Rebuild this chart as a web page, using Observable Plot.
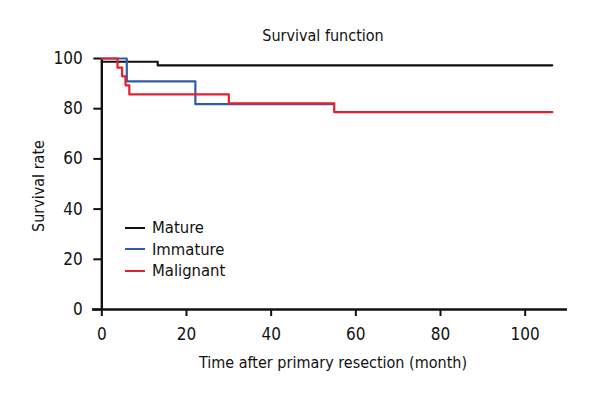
<!DOCTYPE html>
<html>
<head>
<meta charset="utf-8">
<script src="https://cdn.jsdelivr.net/npm/d3@7"></script>
<script src="https://cdn.jsdelivr.net/npm/@observablehq/plot@0.6"></script>
<style>
  html, body { margin: 0; padding: 0; background: #fff; }
  #wrap { position: relative; width: 600px; height: 400px; overflow: hidden; }
  #legend { position: absolute; left: 125px; top: 217px; font-family: "Liberation Sans Narrow", "DejaVu Sans Condensed", "Roboto", sans-serif; font-size: 16.5px; color: #111; }
  #legend .row { display: flex; align-items: center; height: 21.5px; }
  #legend .sw { width: 20px; height: 0; border-top: 2.2px solid; margin-right: 7px; }
</style>
</head>
<body>
<div id="wrap"><div id="legend"></div></div>
<script>
const FONT = '"Liberation Sans Narrow", "DejaVu Sans Condensed", Roboto, sans-serif';

const titleText = "Survival function";
const xLabel = "Time after primary resection (month)";
const yLabel = "Survival rate";
const xTicks = [0, 20, 40, 60, 80, 100];
const yTicks = [0, 20, 40, 60, 80, 100];

const groups = ["Mature", "Immature", "Malignant"];
const colors = ["#111111", "#2f5dab", "#e5202e"];

const matureTime = [0, 13.2, 106.4];
const matureSurv = [98.7, 97.3, 97.3];
const immatureTime = [0, 5.9, 22.1, 54.6];
const immatureSurv = [100, 90.9, 81.8, 81.8];
const malignantTime = [0, 3.7, 4.8, 5.6, 6.5, 30.0, 54.9, 106.4];
const malignantSurv = [100, 96.4, 92.9, 89.3, 85.7, 82.1, 78.6, 78.6];

const series = [
  matureTime.map((t, i) => ({group: "Mature", t, s: matureSurv[i]})),
  immatureTime.map((t, i) => ({group: "Immature", t, s: immatureSurv[i]})),
  malignantTime.map((t, i) => ({group: "Malignant", t, s: malignantSurv[i]}))
];

const chart = Plot.plot({
  width: 600,
  height: 400,
  marginLeft: 92,
  marginRight: 33,
  marginTop: 58,
  marginBottom: 91,
  style: {fontFamily: FONT, fontSize: "17px", color: "#111", background: "#fff", overflow: "visible"},
  x: {domain: [-2.2, 110]},
  y: {domain: [0, 100]},
  marks: [
    Plot.axisX({ticks: xTicks, tickSize: 7, tickPadding: 11, strokeWidth: 2, label: null, fontSize: 17}),
    Plot.axisY({ticks: yTicks, tickSize: 8, dx: 9.3, tickPadding: 11, strokeWidth: 2, label: null, fontSize: 17}),
    Plot.ruleY([0], {stroke: "#111", strokeWidth: 2.4}),
    Plot.ruleX([0], {y1: 0, y2: 100, stroke: "#111", strokeWidth: 2.4}),
    ...series.map((d, i) => Plot.line(d, {x: "t", y: "s", stroke: colors[i], strokeWidth: 2.2, curve: "step-after"})),
    Plot.text([titleText], {frameAnchor: "top", lineAnchor: "middle", textAnchor: "middle", dy: -23, dx: -7, fontSize: 16, fill: "#111"}),
    Plot.text([xLabel], {frameAnchor: "bottom", lineAnchor: "middle", textAnchor: "middle", dy: 53, dx: 3, fontSize: 16, fill: "#111"}),
    Plot.text([yLabel], {frameAnchor: "left", lineAnchor: "middle", textAnchor: "middle", dx: -54, dy: 2, rotate: -90, fontSize: 16, fill: "#111"})
  ]
});

const wrap = document.getElementById("wrap");
wrap.insertBefore(chart, wrap.firstChild);

const legend = document.getElementById("legend");
groups.forEach((g, i) => {
  const row = document.createElement("div");
  row.className = "row";
  const sw = document.createElement("span");
  sw.className = "sw";
  sw.style.borderTopColor = colors[i];
  const lab = document.createElement("span");
  lab.textContent = g;
  row.appendChild(sw);
  row.appendChild(lab);
  legend.appendChild(row);
});
</script>
</body>
</html>
